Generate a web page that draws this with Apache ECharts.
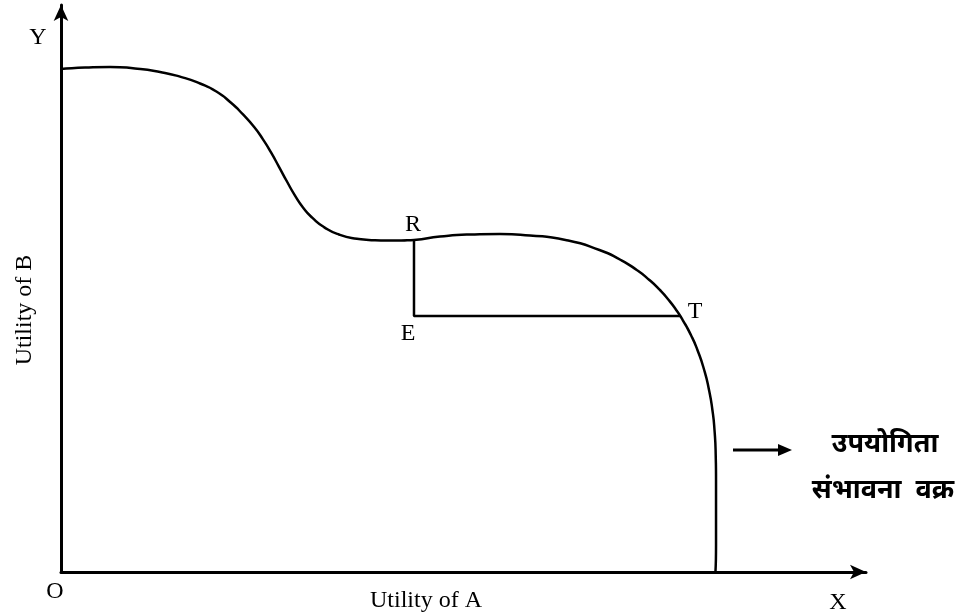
<!DOCTYPE html>
<html>
<head>
<meta charset="utf-8">
<title>Utility possibility curve</title>
<script src="https://cdn.jsdelivr.net/npm/echarts@6/dist/echarts.min.js"></script>
<style>
	html,body{margin:0;padding:0;background:#fff;}
	#main{width:963px;height:615px;}
</style>
</head>
<body>
<div id="main"></div>
<script>
// utility possibility curve (0..100 on both axes)
var curveX=[0,2.98,6.09,9.19,12.30,14.78,17.27,19.25,21.12,22.61,23.98,25.09,26.09,27.08,28.07,29.07,30.06,31.24,32.67,34.53,36.77,39.01,41.24,43.85,
	47.08,50.81,54.53,58.26,62.67,66.89,69.54,71.52,73.09,74.39,75.49,76.42,77.23,78.25,79.06,79.90,80.50,80.92,81.18,81.33,81.37,81.37,81.37,81.30];
var curveY=[88.71,88.98,89.07,88.80,88.18,87.37,86.16,84.78,82.75,80.69,78.50,76.31,74.00,71.46,68.87,66.38,64.29,62.45,60.83,59.52,58.78,58.50,58.45,58.57,
	59.17,59.52,59.61,59.35,58.55,56.79,55.03,53.26,51.50,49.74,47.97,46.21,44.44,41.80,39.15,35.63,32.10,28.57,25.04,20.63,16.23,10.05,4.76,0];
// points R, E, T
var pointNames=["R","E","T"];
var pointX=[43.85,43.85,76.91];
var pointY=[58.57,45.15,45.15];

var serif="'Liberation Serif','Times New Roman',serif";
var hindi="'Noto Sans','DejaVu Sans',sans-serif";

var curveData=[];
for(var i=0;i<curveX.length;i++){
	curveData.push([curveX[i],curveY[i]]);
}
var labelPos={R:{position:'top',offset:[-1,2]},E:{position:'bottom',offset:[-6,0]},T:{position:'right',offset:[2,-4]}};
var retData=[];
for(var j=0;j<pointNames.length;j++){
	retData.push({
		name:pointNames[j],
		value:[pointX[j],pointY[j]],
		label:{
			show:true,
			formatter:pointNames[j],
			position:labelPos[pointNames[j]].position,
			offset:labelPos[pointNames[j]].offset
		}
	});
}

var myChart=echarts.init(document.getElementById('main'),null,{renderer:'canvas'});
var axisCommon={
	type:'value',
	min:0,
	max:100,
	axisLine:{
		show:true,
		symbol:['none','arrow'],
		symbolSize:[11,16],
		lineStyle:{color:'#000',width:3}
	},
	axisTick:{show:false},
	axisLabel:{show:false},
	splitLine:{show:false}
};
var option={
	backgroundColor:'#fff',
	animation:false,
	grid:{left:61,right:97,top:5,bottom:43},
	xAxis:axisCommon,
	yAxis:axisCommon,
	series:[
		{
			name:'curve',
			type:'line',
			data:curveData,
			smooth:0.6,
			symbol:'none',
			lineStyle:{color:'#000',width:2.5},
			z:3
		},
		{
			name:'RET',
			type:'line',
			data:retData,
			symbol:'circle',
			symbolSize:1,
			showSymbol:true,
			itemStyle:{color:'#000'},
			label:{
				show:true,
				color:'#000',
				fontFamily:serif,
				fontSize:24
			},
			lineStyle:{color:'#000',width:2.5},
			z:2
		}
	],
	graphic:[
		{type:'text',x:38,y:38,style:{text:'Y',font:'24px '+serif,fill:'#000',align:'center',verticalAlign:'middle'}},
		{type:'text',x:55,y:592,style:{text:'O',font:'24px '+serif,fill:'#000',align:'center',verticalAlign:'middle'}},
		{type:'text',x:838,y:603,style:{text:'X',font:'24px '+serif,fill:'#000',align:'center',verticalAlign:'middle'}},
		{type:'text',x:426,y:601,style:{text:'Utility of A',font:'24px '+serif,fill:'#000',align:'center',verticalAlign:'middle'}},
		{type:'text',x:25,y:310,rotation:Math.PI/2,style:{text:'Utility of B',font:'24px '+serif,fill:'#000',align:'center',verticalAlign:'middle'}},
		{type:'line',shape:{x1:733,y1:450,x2:780,y2:450},style:{stroke:'#000',lineWidth:3}},
		{type:'polygon',shape:{points:[[778,444],[792,450],[778,456]]},style:{fill:'#000'}},
		{type:'text',x:885,y:444,style:{text:'उपयोगिता',font:'bold 27px '+hindi,fill:'#000',align:'center',verticalAlign:'middle'}},
		{type:'text',x:883,y:490,style:{text:'संभावना  वक्र',font:'bold 27px '+hindi,fill:'#000',align:'center',verticalAlign:'middle'}}
	]
};
myChart.setOption(option);
</script>
</body>
</html>
